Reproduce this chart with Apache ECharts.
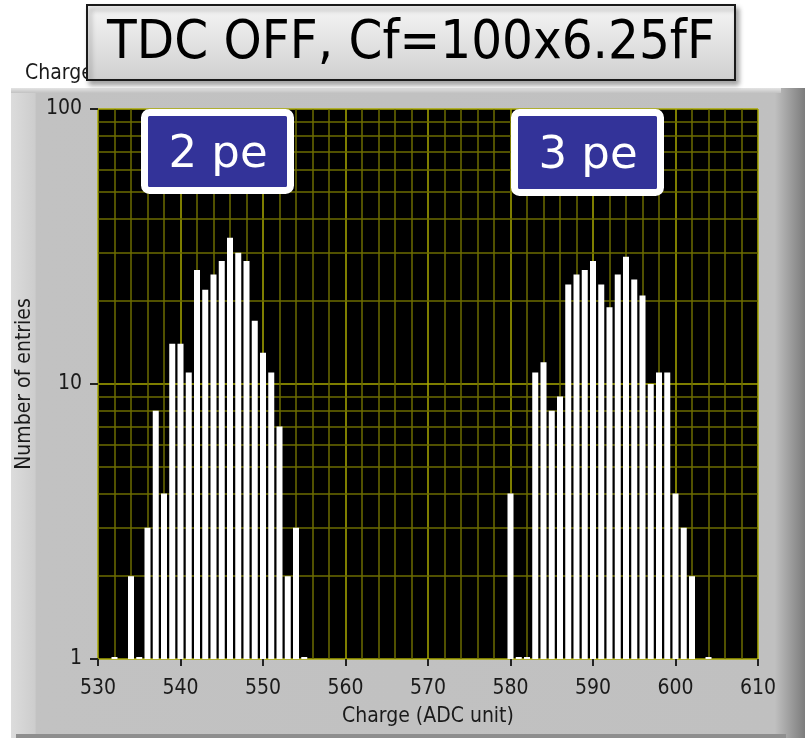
<!DOCTYPE html>
<html>
<head>
<meta charset="utf-8">
<script src="https://cdn.jsdelivr.net/npm/echarts@6/dist/echarts.min.js"></script>
<style>
  html, body { margin: 0; padding: 0; background: #fff; }
  #chart { width: 808px; height: 743px; }
</style>
</head>
<body>
<div id="chart"></div>
<script>
// 2 pe peak
var pe2Charge  = [532, 534, 535, 536, 537, 538, 539, 540, 541, 542, 543, 544, 545, 546, 547, 548, 549, 550, 551, 552, 553, 554, 555];
var pe2Entries = [1, 2, 1, 3, 8, 4, 14, 14, 11, 26, 22, 25, 28, 34, 30, 28, 17, 13, 11, 7, 2, 3, 1];
// 3 pe peak
var pe3Charge  = [580, 581, 582, 583, 584, 585, 586, 587, 588, 589, 590, 591, 592, 593, 594, 595, 596, 597, 598, 599, 600, 601, 602, 604];
var pe3Entries = [4, 1, 1, 11, 12, 8, 9, 23, 25, 26, 28, 23, 19, 25, 29, 24, 21, 10, 11, 11, 4, 3, 2, 1];

var xTicks = [530, 540, 550, 560, 570, 580, 590, 600, 610];
var yTicks = [1, 10, 100];
var minorGridValues = [2, 3, 4, 5, 6, 7, 8, 9, 20, 30, 40, 50, 60, 70, 80, 90];

var font = 'DejaVu Sans Condensed';
var histData = [];
pe2Charge.forEach(function (c, i) { histData.push([c, pe2Entries[i]]); });
pe3Charge.forEach(function (c, i) { histData.push([c, pe3Entries[i]]); });

var myChart = echarts.init(document.getElementById('chart'));
myChart.setOption({
  backgroundColor: '#fff',
  animation: false,
  grid: {
    left: 98, right: 50, top: 109, bottom: 84,
    show: true, backgroundColor: '#000', borderWidth: 0
  },
  xAxis: {
    type: 'value',
    min: xTicks[0], max: xTicks[xTicks.length - 1], interval: 10,
    name: 'Charge (ADC unit)', nameLocation: 'middle', nameGap: 47,
    nameTextStyle: { color: '#1a1a1a', fontSize: 21, fontFamily: font },
    axisLine: { show: false },
    axisTick: { show: true, length: 7, lineStyle: { color: '#222', width: 2 } },
    axisLabel: { color: '#1a1a1a', fontSize: 21, margin: 19, fontFamily: font },
    splitLine: { show: true, lineStyle: { color: '#a8a800', width: 1.5 } },
    minorTick: { show: false, splitNumber: 5 },
    minorSplitLine: { show: true, lineStyle: { color: '#6c6c00', width: 1.5 } }
  },
  yAxis: {
    type: 'log', logBase: 10,
    min: yTicks[0], max: yTicks[yTicks.length - 1],
    name: 'Number of entries', nameLocation: 'middle', nameGap: 60,
    nameTextStyle: { color: '#1a1a1a', fontSize: 21, fontFamily: font },
    axisLine: { show: false },
    axisTick: { show: true, length: 8, lineStyle: { color: '#222', width: 2 } },
    axisLabel: { color: '#1a1a1a', fontSize: 21, margin: 16, fontFamily: font },
    splitLine: { show: true, lineStyle: { color: '#a8a800', width: 1.5 } }
  },
  series: [{
    type: 'bar',
    data: histData,
    barWidth: 6,
    barMinHeight: 2,
    z: 10,
    itemStyle: { color: '#fff' },
    markLine: {
      silent: true,
      symbol: 'none',
      label: { show: false },
      lineStyle: { color: '#6c6c00', width: 1.5, type: 'solid' },
      data: minorGridValues.map(function (v) { return { yAxis: v }; })
    }
  }],
  graphic: [
    {
      type: 'rect', z: -10, silent: true,
      shape: { x: 11, y: 88, width: 794, height: 650 },
      style: {
        fill: new echarts.graphic.LinearGradient(0, 0, 1, 0, [
          { offset: 0, color: '#dcdcdc' },
          { offset: 0.03, color: '#cdcdcd' },
          { offset: 0.032, color: '#c2c2c2' },
          { offset: 0.962, color: '#c0c0c0' },
          { offset: 1, color: '#7c7c7c' }
        ])
      }
    },
    {
      type: 'rect', z: -9, silent: true,
      shape: { x: 11, y: 88, width: 770, height: 5 },
      style: { fill: new echarts.graphic.LinearGradient(0, 0, 0, 1, [
        { offset: 0, color: '#e4e4e4' }, { offset: 1, color: '#c2c2c2' }]) }
    },
    {
      type: 'rect', z: -9, silent: true,
      shape: { x: 16, y: 734, width: 770, height: 4 },
      style: { fill: '#8e8e8e' }
    },
    {
      type: 'text', z: 50, silent: true,
      style: { x: 25, y: 74, text: 'Charge', fill: '#1a1a1a', font: '21px ' + font, textVerticalAlign: 'middle' }
    },
    {
      type: 'rect', z: 60, silent: true,
      shape: { x: 87, y: 5, width: 648, height: 75 },
      style: {
        fill: new echarts.graphic.LinearGradient(0, 0, 0, 1, [
          { offset: 0, color: '#f6f6f6' }, { offset: 1, color: '#cfcfcf' }]),
        stroke: '#1a1a1a', lineWidth: 2,
        shadowBlur: 5, shadowOffsetX: 3, shadowOffsetY: 4, shadowColor: 'rgba(0,0,0,0.35)'
      }
    },
    {
      type: 'text', z: 61, silent: true,
      style: {
        x: 411, y: 44, text: 'TDC OFF, Cf=100x6.25fF', fill: '#000',
        font: '54px ' + font, textAlign: 'center', textVerticalAlign: 'middle'
      }
    },
    {
      type: 'rect', z: 60, silent: true,
      shape: { x: 144.5, y: 112.5, width: 146, height: 78, r: 5 },
      style: { fill: '#333399', stroke: '#fff', lineWidth: 7 }
    },
    {
      type: 'text', z: 61, silent: true,
      style: { x: 218, y: 155, text: '2 pe', fill: '#fff', font: '45px DejaVu Sans', textAlign: 'center', textVerticalAlign: 'middle' }
    },
    {
      type: 'rect', z: 60, silent: true,
      shape: { x: 514.5, y: 112.5, width: 146, height: 80, r: 5 },
      style: { fill: '#333399', stroke: '#fff', lineWidth: 7 }
    },
    {
      type: 'text', z: 61, silent: true,
      style: { x: 588, y: 156, text: '3 pe', fill: '#fff', font: '45px DejaVu Sans', textAlign: 'center', textVerticalAlign: 'middle' }
    }
  ]
});
</script>
</body>
</html>
